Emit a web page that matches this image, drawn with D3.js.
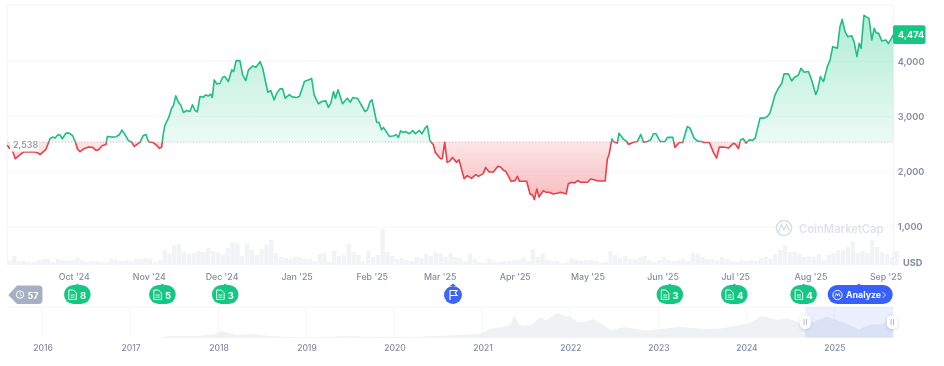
<!DOCTYPE html>
<html><head><meta charset="utf-8">
<script src="https://cdn.jsdelivr.net/npm/d3@7"></script>
<style>
html,body{margin:0;padding:0;background:#fff}
svg{display:block;filter:blur(.35px)}
text{font-family:Inter,"Noto Sans",sans-serif}
</style></head><body><svg id="c" width="944" height="366"></svg>
<script>
// days since 1 Oct 2024
const days=[-27.4,-26.7,-25.4,-24.1,-22.1,-20.8,-18.7,-16.6,-15,-13.9,-12.5,-11.4,-9.8,-8.7,-7.7,-6.5,-5.6,-4.7,-3.2,-1.9,-0.4,0.6,1.5,2.6,4,6.1,7.8,9.2,10.3,11.7,13.3,13.9,15.7,17.5,18.8,19.9,21.2,22.6,23.9,25,26.3,27.4,28.7,29.8,30.9,32.6,34,35.4,36.3,37,37.7,39.1,40.4,41.1,42.1,43.2,44.2,45.3,46.6,48,49,50.1,51,52.1,53.5,54.5,55.6,56.5,57.2,58,59,60.4,61.5,62.4,63.8,65.2,66,67,68.6,69.7,71,72.1,73.9,75.2,76.9,78,79,80.1,81.3,82.7,83.8,85.1,86.2,87.3,89,90.1,92,93.1,94.1,95.2,96.8,98.2,99.2,101,102.3,104,105.1,106.1,107.2,108,109.1,110.9,112.9,114.2,115.1,117.2,120.2,121.2,122.3,123.1,125,126,127,127.8,130.3,132.2,133,134,134.9,135.8,136.9,138.5,139.9,141,142.6,143.7,145,145.9,147,148.4,149.2,151.4,152.1,153.1,154.1,155,156.3,158,159,161.1,162.4,164.2,165.9,167,169,170,171.4,173.2,175,176.2,177.3,178.3,180.5,182.1,183.1,183.9,186.9,188.3,189.4,190.1,191.1,192,193.8,194.9,196.3,197.9,200,201,203.2,204.1,205.5,206.6,208,209.2,212.1,213.3,214.7,216.5,219.3,220.2,220.9,222.1,223,224.3,225,226.8,228.2,228.9,230.7,232.6,234,235.1,236.7,238.1,239.2,240.3,242,244,245,247.2,248.1,249.9,251.3,253.2,254.3,256,257.4,259.1,260.1,262.3,264,265.3,266.4,268.1,270.2,272.2,273,274.3,275.2,276.3,277.4,278.8,280.2,281.2,283.2,284.9,286.2,287.3,289.4,290.8,292.2,293.1,294.9,296.3,297.4,299,300.1,301.4,303.2,304.5,306.2,307,308.1,309.4,311,312.1,313.2,315.1,316.2,317.1,318.3,319.4,321,322,323.2,324.1,324.9,326.1,328.2,329.3,330.3,331.1,332.2,333.4,335.2,336.2,338.2];
const prices=[2483,2435,2399,2236,2309,2357,2357,2363,2345,2309,2363,2411,2598,2628,2610,2670,2664,2598,2700,2700,2652,2549,2417,2363,2411,2447,2441,2387,2399,2471,2495,2640,2628,2634,2670,2754,2670,2562,2537,2459,2501,2537,2658,2676,2543,2531,2489,2423,2447,2700,2850,2971,3151,3194,3374,3260,3206,3073,3109,3091,3212,3109,3085,3362,3350,3392,3374,3404,3344,3663,3591,3603,3711,3723,3633,3844,3814,4012,4012,3754,3651,3844,3916,3892,3994,3874,3663,3440,3471,3302,3422,3501,3501,3332,3398,3356,3344,3362,3483,3633,3663,3687,3392,3230,3272,3284,3164,3242,3453,3332,3483,3230,3332,3260,3344,3326,3091,3121,3272,3302,2899,2893,2760,2802,2640,2652,2670,2622,2742,2712,2730,2688,2748,2688,2748,2688,2790,2832,2562,2489,2351,2236,2236,2537,2170,2188,2260,2170,2218,1875,1929,1881,1948,1917,1966,2080,1996,1996,2098,2086,2026,2008,1827,1839,1917,1827,1827,1598,1574,1496,1689,1544,1659,1628,1628,1598,1616,1628,1598,1785,1809,1797,1839,1809,1809,1869,1857,1833,1833,2230,2309,2592,2537,2519,2700,2592,2549,2495,2531,2549,2676,2537,2549,2580,2688,2688,2549,2549,2622,2622,2441,2531,2531,2820,2790,2610,2555,2549,2531,2531,2351,2248,2447,2447,2429,2513,2501,2423,2580,2598,2519,2580,2568,2610,2971,2971,3001,3061,3392,3513,3603,3772,3772,3645,3711,3747,3874,3802,3814,3663,3398,3483,3723,3633,3904,4024,4265,4235,4626,4759,4536,4446,4464,4356,4085,4325,4235,4831,4777,4386,4596,4518,4506,4368,4386,4319,4476];
const basePrice=2538, lastPrice=4474;
// two-day volume, relative units
const volumes=[4,9,4,4,3,3,5,6,6,3,6,5,4,5,7,5,3,4,4,3,3,6,5,4,5,4,6,6,7,6,3,5,15,11,20,21,13,11,12,14,13,17,14,12,10,17,23,22,9,22,15,10,16,20,25,12,8,7,6,8,8,6,
6,4,11,12,3,14,9,10,21,13,10,4,14,8,10,36,13,9,6,7,5,4,8,7,11,9,13,11,8,12,8,7,4,11,6,3,2,6,3,3,4,4,5,5,7,4,16,8,12,5,4,4,2,3,7,5,4,5,5,4,2,3,
14,10,7,9,6,6,8,9,5,3,5,8,5,4,5,6,4,12,11,8,6,6,5,8,6,4,3,5,4,5,4,7,8,6,11,15,20,13,13,11,8,9,8,11,5,10,12,15,15,18,24,12,14,12,25,18,13,11,8,14];
const monthDates=["2024-10-01","2024-11-01","2024-12-01","2025-01-01","2025-02-01","2025-03-01","2025-04-01","2025-05-01","2025-06-01","2025-07-01","2025-08-01","2025-09-01"];
const monthLabels=["Oct '24","Nov '24","Dec '24","Jan '25","Feb '25","Mar '25","Apr '25","May '25","Jun '25","Jul '25","Aug '25","Sep '25"];
const priceTicks=[1000,2000,3000,4000];
const eventDays=[1.5,36.6,62.5,246,272.6,301.2];
const eventCounts=[8,5,3,3,4,4];
const flagDay=156.5, analyzeDay=324, historyCount=57;
const navYears=[2015.6,2016.5,2017,2017.3,2017.45,2017.7,2017.95,2018.04,2018.2,2018.4,2018.6,2018.95,2019.45,2019.95,2020.2,2020.6,2020.97,2021.09,2021.24,2021.32,2021.36,2021.42,2021.47,2021.56,2021.66,2021.72,2021.85,2021.93,2022,2022.08,2022.18,2022.26,2022.38,2022.46,2022.6,2022.76,2022.88,2023,2023.25,2023.52,2023.71,2024.02,2024.18,2024.35,2024.47,2024.65,2024.76,2024.92,2025.15,2025.28,2025.41,2025.56,2025.63,2025.67];
const navPrices=[1,14,10,50,350,300,600,1300,500,700,300,100,280,130,120,400,700,1730,2050,2600,4290,2500,2180,2500,3970,3300,4800,4200,3970,3000,3000,3650,2370,1410,2050,1600,1340,1600,2100,1600,1790,2750,4160,3400,3700,2600,3070,4000,2700,1600,2600,2600,4700,4474];
const yearTicks=[2016,2017,2018,2019,2020,2021,2022,2023,2024,2025];
const selectionStart=2024.67;

const DAY=864e5, t0=Date.UTC(2024,9,1);
const dt=d=>new Date(t0+d*DAY);
const left=7.3,right=893.3,top_=5;
const x=d3.scaleUtc().domain([dt(-27.4),dt(326.6+11.6)]).range([left,right]);
const y=d3.scaleLinear().domain([1000,4000]).range([227,61.3]);
const volY=d3.scaleLinear().domain([0,36]).range([265,229]);
const nx=d3.scaleLinear().domain([2015.6,2025.67]).range([left,right]);
const ny=d3.scaleLinear().domain([0,4800]).range([337.7,312.7]);
const svg=d3.select("#c");
const defs=svg.append("defs");
const by=y(basePrice);
function grad(id,y1,y2,c,a1,a2){const g=defs.append("linearGradient").attr("id",id).attr("gradientUnits","userSpaceOnUse").attr("x1",0).attr("x2",0).attr("y1",y1).attr("y2",y2);
 g.append("stop").attr("offset",0).attr("stop-color",c).attr("stop-opacity",a1);g.append("stop").attr("offset",1).attr("stop-color",c).attr("stop-opacity",a2);}
grad("gG",15,by,"#16c784",.34,.08);
grad("gR",by,200,"#ea3943",.13,.34);
defs.append("clipPath").attr("id","ab").append("rect").attr("x",0).attr("y",0).attr("width",944).attr("height",by);
defs.append("clipPath").attr("id","be").append("rect").attr("x",0).attr("y",by).attr("width",944).attr("height",240);
defs.append("filter").attr("id","sh").attr("x","-50%").attr("y","-50%").attr("width","200%").attr("height","200%").append("feDropShadow").attr("dx",0).attr("dy",1).attr("stdDeviation",1.5).attr("flood-color","#58667e").attr("flood-opacity",.25);

const gridC="#f5f6f8";
// frame + grid
[top_,...priceTicks.map(y),307].forEach((v,i)=>svg.append("line").attr("x1",left).attr("x2",right).attr("y1",v).attr("y2",v).attr("stroke",i==0?"#eff1f4":gridC));
svg.append("line").attr("x1",left).attr("x2",left).attr("y1",top_).attr("y2",265).attr("stroke",gridC);
svg.append("line").attr("x1",right).attr("x2",right).attr("y1",top_).attr("y2",268).attr("stroke","#eff1f4");

// volume
svg.append("g").selectAll("rect").data(volumes).join("rect")
 .attr("x",(v,i)=>x(dt(-27.4+2*i))).attr("width",4.4)
 .attr("y",v=>volY(v)).attr("height",v=>265-volY(v)).attr("fill","#f1f3f6");

// watermark
const wm=svg.append("g");
wm.append("circle").attr("cx",784).attr("cy",228).attr("r",7.6).attr("fill","none").attr("stroke","#dadfe8").attr("stroke-width",1.5);
wm.append("path").attr("d","M778.5 232 L781.5 224.5 L784 230 L786.5 224.5 L789.5 231").attr("fill","none").attr("stroke","#dadfe8").attr("stroke-width",1.5);
wm.append("text").attr("x",799).attr("y",233).attr("font-size",11.2).attr("font-weight",600).attr("fill","#dfe3ea").text("CoinMarketCap");

// price
const pts=days.map((d,i)=>[x(dt(d)),y(prices[i])]);
const area=d3.area().x(p=>p[0]).y1(p=>p[1]).y0(by);
const line=d3.line().x(p=>p[0]).y(p=>p[1]);
svg.append("path").attr("d",area(pts)).attr("fill","url(#gG)").attr("clip-path","url(#ab)");
svg.append("path").attr("d",area(pts)).attr("fill","url(#gR)").attr("clip-path","url(#be)");
svg.append("path").attr("d",line(pts)).attr("fill","none").attr("stroke","#1fbe84").attr("stroke-width",1.6).attr("stroke-linejoin","round").attr("clip-path","url(#ab)");
svg.append("path").attr("d",line(pts)).attr("fill","none").attr("stroke","#e8404c").attr("stroke-width",1.6).attr("stroke-linejoin","round").attr("clip-path","url(#be)");
svg.append("line").attr("x1",left).attr("x2",right).attr("y1",by).attr("y2",by).attr("stroke","#9aa3b5").attr("stroke-width",.8).attr("stroke-dasharray","1 2.2");
// start-price tag
svg.append("rect").attr("x",10).attr("y",by-2).attr("width",29).attr("height",11.5).attr("fill","#fff").attr("fill-opacity",.92);
svg.append("text").attr("x",13).attr("y",by+6).attr("font-size",9).attr("font-weight",500).attr("fill","#858ca2").text(d3.format(",")(basePrice));

// price axis
const yAxis=svg.append("g").attr("transform",`translate(${right+4.5},0)`).call(d3.axisRight(y).tickValues(priceTicks).tickSize(0).tickPadding(0).tickFormat(d3.format(",")));
yAxis.select(".domain").remove();
yAxis.selectAll("text").attr("font-size",9.2).attr("font-weight",600).attr("fill","#858ca2").style("font-family","Inter");
svg.append("text").attr("x",903).attr("y",266).attr("font-size",9.2).attr("font-weight",700).attr("fill","#808a9d").text("USD");
svg.append("rect").attr("x",right-.3).attr("y",25.3).attr("width",32.5).attr("height",18.7).attr("rx",2).attr("fill","#16c784");
svg.append("text").attr("x",898).attr("y",38).attr("font-size",9.2).attr("font-weight",700).attr("fill","#fff").text(d3.format(",")(lastPrice));

// month axis
const mAxis=svg.append("g").attr("transform","translate(0,273.5)").call(d3.axisBottom(x).tickValues(monthDates.map(s=>new Date(s+"T00:00:00Z"))).tickSize(0).tickPadding(0).tickFormat((d,i)=>monthLabels[i]));
mAxis.select(".domain").remove();
mAxis.selectAll("text").attr("font-size",8.8).attr("font-weight",500).attr("fill","#858ca2").style("font-family","Inter");

// badges
function nub(g,cx,c){g.append("path").attr("d",`M${cx-3} 286 L${cx} 283.6 L${cx+3} 286 Z`).attr("fill",c);}
const green="#16c784";
eventDays.forEach((d,i)=>{
 const cx=x(dt(d)),g=svg.append("g");
 nub(g,cx,green);
 g.append("rect").attr("x",cx-13.3).attr("y",285).attr("width",26.6).attr("height",19).attr("rx",9.5).attr("fill",green);
 g.append("path").attr("d",`M${cx-8.5} 290 h4.5 l3 3 v6.5 h-7.5 Z M${cx-6.7} 295 h4 M${cx-6.7} 297.2 h4`).attr("fill","none").attr("stroke","#fff").attr("stroke-width",.9);
 g.append("text").attr("x",cx+2.6).attr("y",298.7).attr("font-size",9.5).attr("font-weight",700).attr("fill","#fff").text(eventCounts[i]);
});
// flag
{const cx=x(dt(flagDay)),g=svg.append("g");
 nub(g,cx,"#3d66f0");
 g.append("circle").attr("cx",cx).attr("cy",295).attr("r",9).attr("fill","#3d66f0");
 g.append("path").attr("d",`M${cx-3} 300 V290.5 H${cx+4} L${cx+2.3} 293 L${cx+4} 295.5 H${cx-3}`).attr("fill","none").attr("stroke","#fff").attr("stroke-width",1.1);}
// analyze
{const cx=x(dt(analyzeDay)),g=svg.append("g"),c="#3861fb";
 nub(g,cx,c);
 g.append("rect").attr("x",827.7).attr("y",285).attr("width",65).attr("height",19).attr("rx",9.5).attr("fill",c);
 g.append("circle").attr("cx",837.5).attr("cy",295).attr("r",4.6).attr("fill","none").attr("stroke","#fff").attr("stroke-width",1);
 g.append("path").attr("d","M835 296.6 L836.4 293.4 L837.6 295.8 L838.8 293.4 L840 296.4").attr("fill","none").attr("stroke","#fff").attr("stroke-width",.9);
 g.append("text").attr("x",846).attr("y",298.3).attr("font-size",8.8).attr("font-weight",700).attr("fill","#fff").text("Analyze");
 g.append("path").attr("d","M882.5 292 L885.5 295 L882.5 298").attr("fill","none").attr("stroke","#dfe6ff").attr("stroke-width",.9);}
// history
{const g=svg.append("g");
 g.append("path").attr("d","M8.3 295 L17 285.6 H38.5 Q42.5 285.6 42.5 289.6 V300 Q42.5 304 38.5 304 H17 Z").attr("fill","#a6b0c3");
 g.append("circle").attr("cx",20).attr("cy",294.6).attr("r",3.7).attr("fill","none").attr("stroke","#fff").attr("stroke-width",1);
 g.append("path").attr("d","M20 292.4 V294.8 L21.8 295.8").attr("fill","none").attr("stroke","#fff").attr("stroke-width",.8);
 g.append("text").attr("x",27.5).attr("y",298.5).attr("font-size",9).attr("font-weight",700).attr("fill","#fff").text(historyCount);}

// navigator
yearTicks.forEach(yr=>svg.append("line").attr("x1",nx(yr)).attr("x2",nx(yr)).attr("y1",307).attr("y2",337.7).attr("stroke",gridC));
const navArea=d3.area().x((d,i)=>nx(navYears[i])).y0(337.7).y1(d=>ny(d));
svg.append("path").attr("d",navArea(navPrices)).attr("fill","#eff1f4");
svg.append("rect").attr("x",nx(selectionStart)).attr("y",307).attr("width",right-nx(selectionStart)).attr("height",30.7).attr("fill","#3861fb").attr("fill-opacity",.1);
[nx(selectionStart),right-1].forEach(hx=>{
 svg.append("rect").attr("x",hx-5.5).attr("y",315).attr("width",11).attr("height",14).attr("rx",5.5).attr("fill","#fff").attr("filter","url(#sh)");
 [-1.2,1.2].forEach(o=>svg.append("line").attr("x1",hx+o).attr("x2",hx+o).attr("y1",319).attr("y2",325).attr("stroke","#a6b0c3").attr("stroke-width",.9));
});
const yrAxis=svg.append("g").attr("transform","translate(0,344.5)").call(d3.axisBottom(nx).tickValues(yearTicks).tickSize(0).tickPadding(0).tickFormat(d3.format("d")));
yrAxis.select(".domain").remove();
yrAxis.selectAll("text").attr("font-size",8.5).attr("font-weight",500).attr("fill","#858ca2").style("font-family","Inter");
</script></body></html>
